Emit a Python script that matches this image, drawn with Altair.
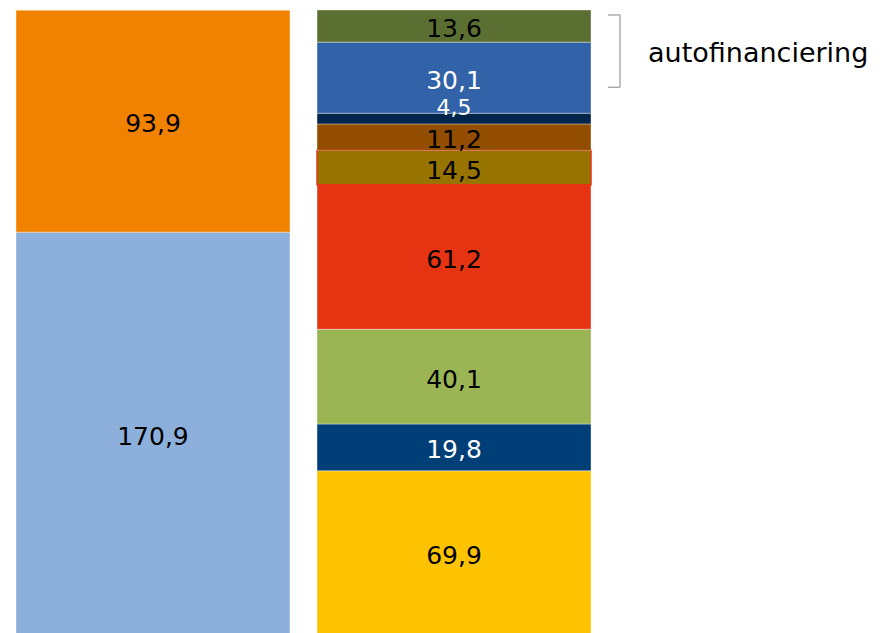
import altair as alt
import pandas as pd

# ---- data ----
bars = ["L", "L", "R", "R", "R", "R", "R", "R", "R", "R", "R"]
values = [170.9, 93.9, 69.9, 19.8, 40.1, 61.2, 14.5, 11.2, 4.5, 30.1, 13.6]
labels = ["170,9", "93,9", "69,9", "19,8", "40,1", "61,2", "14,5", "11,2", "4,5", "30,1", "13,6"]
colors = ["#8DAFDB", "#F08200", "#FDC300", "#003E78", "#9BB555", "#E63312",
          "#977400", "#924D00", "#00254A", "#3263A8", "#5B6F33"]
text_colors = ["black", "black", "black", "white", "black", "black",
               "black", "black", "white", "white", "black"]
strokes = ["rgba(255,255,255,0.45)"] * 6 + ["#E63312"] + ["rgba(255,255,255,0.45)"] * 4
stroke_w = [0.8] * 6 + [1.5] + [0.8] * 4

annot_text = "autofinanciering"
bracket_top = 262.8
bracket_bottom = 232.2
annot_y = 247.0

seg_ids = [f"s{i}" for i in range(len(values))]
df = pd.DataFrame({
    "bar": bars, "value": values, "label": labels, "seg": seg_ids,
    "order": list(range(len(values))), "tc": text_colors,
    "stroke": strokes, "sw": stroke_w,
})
total = max(sum(v for b, v in zip(bars, values) if b == k) for k in ("L", "R"))

yscale = alt.Scale(domain=[0, total], nice=False, zero=True)
xscale = alt.Scale(paddingInner=0.09, paddingOuter=0.0266)

base = alt.Chart(df).transform_stack(
    stack="value", groupby=["bar"], sort=[alt.SortField("order")], as_=["y0", "y1"]
).transform_calculate(mid="(datum.y0 + datum.y1) / 2")

rects = base.mark_bar(clip=True).encode(
    x=alt.X("bar:N", scale=xscale, axis=None),
    y=alt.Y("y0:Q", scale=yscale, axis=None),
    y2="y1:Q",
    color=alt.Color("seg:N", scale=alt.Scale(domain=seg_ids, range=colors), legend=None),
    stroke=alt.Stroke("stroke:N", scale=None),
    strokeWidth=alt.StrokeWidth("sw:Q", scale=None),
)

texts = base.transform_filter(alt.datum.label != "4,5").mark_text(
    font="DejaVu Sans", fontSize=25, baseline="middle", align="center", dy=3
).encode(
    x=alt.X("bar:N", scale=xscale, axis=None),
    y=alt.Y("mid:Q", scale=yscale, axis=None),
    text="label:N",
    color=alt.Color("tc:N", scale=None),
)
text_small = base.transform_filter(alt.datum.label == "4,5").mark_text(
    font="DejaVu Sans", fontSize=22, baseline="middle", align="center", dy=-11
).encode(
    x=alt.X("bar:N", scale=xscale, axis=None),
    y=alt.Y("mid:Q", scale=yscale, axis=None),
    text="label:N",
    color=alt.Color("tc:N", scale=None),
)

ann = pd.DataFrame({"top": [bracket_top], "bottom": [bracket_bottom], "mid": [annot_y], "t": [annot_text]})
ab = alt.Chart(ann)
bcol = "#A0A0A0"
vline = ab.mark_rule(color=bcol, strokeWidth=1.3).encode(
    x=alt.value(612), y=alt.Y("top:Q", scale=yscale), y2="bottom:Q")
htop = ab.mark_rule(color=bcol, strokeWidth=1.3).encode(
    x=alt.value(600), x2=alt.value(612), y=alt.Y("top:Q", scale=yscale))
hbot = ab.mark_rule(color=bcol, strokeWidth=1.3).encode(
    x=alt.value(600), x2=alt.value(612), y=alt.Y("bottom:Q", scale=yscale))
atext = ab.mark_text(font="DejaVu Sans", fontSize=27, align="left", baseline="middle",
                     color="black", dy=2).encode(
    x=alt.value(640), y=alt.Y("mid:Q", scale=yscale), text="t:N")

chart = alt.layer(rects, texts, text_small, vline, htop, hbot, atext).properties(
    width=591, height=626,
    padding={"left": 0, "top": 2, "right": 274, "bottom": 0},
    autosize=alt.AutoSizeParams(type="none"),
).configure_view(stroke=None)

chart.save("out.html", embed_options={"renderer": "svg", "actions": False})
